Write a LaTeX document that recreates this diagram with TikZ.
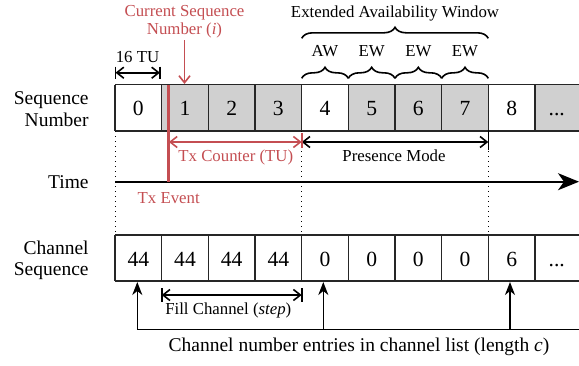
\documentclass[tikz,border=0pt]{standalone}
\usepackage{fontspec}
\setmainfont{Liberation Serif}
\usetikzlibrary{arrows.meta,decorations.pathreplacing,calc}
\definecolor{txred}{RGB}{196,78,82}
\definecolor{cellgray}{RGB}{208,208,208}
\begin{document}
\begin{tikzpicture}[x=0.5pt,y=-0.5pt,
 gridline/.style={line width=0.6pt, draw=black!85},
 num/.style={font=\fontsize{10.8}{12}\selectfont, anchor=base, inner sep=0pt},
 lab/.style={font=\fontsize{9.75}{10.85}\selectfont, align=right, anchor=east, inner sep=0pt},
 ann/.style={font=\fontsize{8.4}{8.8}\selectfont, inner sep=0pt},
 dimarrow/.style={line width=0.8pt, {Straight Barb[length=3.5pt,width=5.5pt]}-{Straight Barb[length=3.5pt,width=5.5pt]}},
 barline/.style={line width=0.8pt},
 uparrow/.style={line width=0.8pt, -{Stealth[length=6.5pt,width=5pt,inset=2pt]}},
 brc/.style={line width=0.8pt, decorate, decoration={brace, amplitude=5.5pt}},
 dotline/.style={line width=0.5pt, dotted}]
\useasboundingbox (0,0) rectangle (579,365);
\clip (0,0) rectangle (579,365);
\def\cw{46.667}
\foreach \k in {0,...,10}{
  \coordinate (st\k) at ({115+\k*\cw},84.5);
  \coordinate (sb\k) at ({115+\k*\cw},131);
  \coordinate (ct\k) at ({115+\k*\cw},235);
  \coordinate (cb\k) at ({115+\k*\cw},281);
}
\coordinate (sr) at (579,84.5);
\coordinate (srb) at (579,131);
\coordinate (cr) at (579,235);
\coordinate (crb) at (579,281);
% sequence row fills
\fill[cellgray] (st1) rectangle (sb4);
\fill[cellgray] (st5) rectangle (sb8);
\fill[cellgray] (st9) rectangle (srb);
% grid lines
\draw[gridline] (st0) -- (sr) (sb0) -- (srb);
\draw[gridline] (ct0) -- (cr) (cb0) -- (crb);
\foreach \k in {0,...,9}{
  \draw[gridline] (st\k) -- (sb\k);
  \draw[gridline] (ct\k) -- (cb\k);
}
% numbers
\foreach \t [count=\i from 0] in {0,1,2,3,4,5,6,7,8}{
  \node[num] (sn\i) at ({115+(\i+0.5)*\cw},115) {\t};
}
\node[num] (sn9) at (556.7,115) {...};
\foreach \t [count=\i from 0] in {44,44,44,44,0,0,0,0,6}{
  \node[num] (cn\i) at ({115+(\i+0.5)*\cw},266.5) {\t};
}
\node[num] (cn9) at (556.7,266.5) {...};
% row labels
\node[lab] (lseq) at (89,109.2) {Sequence\\Number};
\node[lab] (ltime) at (89,182) {Time};
\node[lab] (lchan) at (89,260.3) {Channel\\Sequence};
% top annotations
\node[ann, text=txred, align=center] (cur) at (184.5,22) {Current Sequence\\Number (\textit{i})};
\coordinate (curtip) at (184.5,84);
\draw[txred, line width=0.8pt, -{Straight Barb[length=3.5pt,width=5.5pt]}] (184.5,40) -- (curtip);
\node[ann, anchor=base] (tu) at (137.5,62.7) {16 TU};
\coordinate (tuA) at (115.5,72.7);
\coordinate (tuB) at (160,72.7);
\draw[dimarrow] (tuA) -- (tuB);
\draw[barline] ($(tuA)+(0,-6)$) -- ($(tuA)+(0,6)$);
\draw[barline] ($(tuB)+(0,-6)$) -- ($(tuB)+(0,6)$);
\node[ann, anchor=base] (eaw) at (395,17) {Extended Availability Window};
\draw[brc] (301.7,38.3) -- (488.3,38.3);
\foreach \k/\t in {4/AW,5/EW,6/EW,7/EW}{
  \node[ann, anchor=base] (w\k) at ({115+(\k+0.5)*\cw},56.7) {\t};
  \pgfmathtruncatemacro{\kn}{\k+1}
  \draw[brc] ($(st\k)+(0,-6.2)$) -- ($(st\kn)+(0,-6.2)$);
}
% dotted lines
\draw[dotline] (sb0) -- (ct0);
\draw[dotline] (sb4) -- (ct4);
\draw[dotline] (sb8) -- (ct8);
% time axis
\coordinate (t0) at (115,181.7);
\coordinate (t1) at (579,181.7);
\draw[line width=1pt, -{Stealth[length=10.5pt,width=8.5pt,inset=3pt]}] (t0) -- (t1);
% red Tx event line
\coordinate (rtop) at (168.3,84.5);
\coordinate (rbot) at (168.3,181.7);
\draw[txred, line width=1.25pt] (rtop) -- (rbot);
\node[ann, anchor=base, text=txred] (txev) at (168.7,203.3) {Tx Event};
% Tx counter and presence mode
\coordinate (tcA) at (168.9,142);
\coordinate (tcB) at (301.7,142);
\coordinate (pmB) at (488.3,142);
\draw[dimarrow] (tcB) -- (pmB);
\draw[barline] ($(pmB)+(0,-12)$) -- ($(pmB)+(0,8)$);
\draw[dimarrow, txred] (tcA) -- (tcB);
\draw[barline, txred] ($(tcB)+(0,-9)$) -- ($(tcB)+(0,6.3)$);
\node[ann, anchor=base, text=txred] (txc) at (235.8,161.7) {Tx Counter (TU)};
\node[ann, anchor=base] (pm) at (394,161.7) {Presence Mode};
% fill channel
\coordinate (fcA) at (161.7,295);
\coordinate (fcB) at (301.7,295);
\draw[dimarrow] (fcA) -- (fcB);
\draw[barline] ($(fcA)+(0,-6.7)$) -- ($(fcA)+(0,6.7)$);
\draw[barline] ($(fcB)+(0,-6.7)$) -- ($(fcB)+(0,6.7)$);
\node[ann, anchor=base] (fc) at (228.3,314.3) {Fill Channel (\textit{step})};
% channel entries
\coordinate (u0) at (137.3,329.3);
\coordinate (u1) at (323.3,329.3);
\coordinate (u2) at (510,329.3);
\coordinate (ur) at (579,329.3);
\draw[line width=0.8pt] (u0) -- (ur);
\draw[uparrow] (u0) -- (137.3,282);
\draw[uparrow] (u1) -- (323.3,282);
\draw[uparrow] (u2) -- (510,282);
\node[lab, anchor=base, align=center] (cl) at (359,351.7) {Channel number entries in channel list (length \textit{c})};
\end{tikzpicture}
\end{document}
